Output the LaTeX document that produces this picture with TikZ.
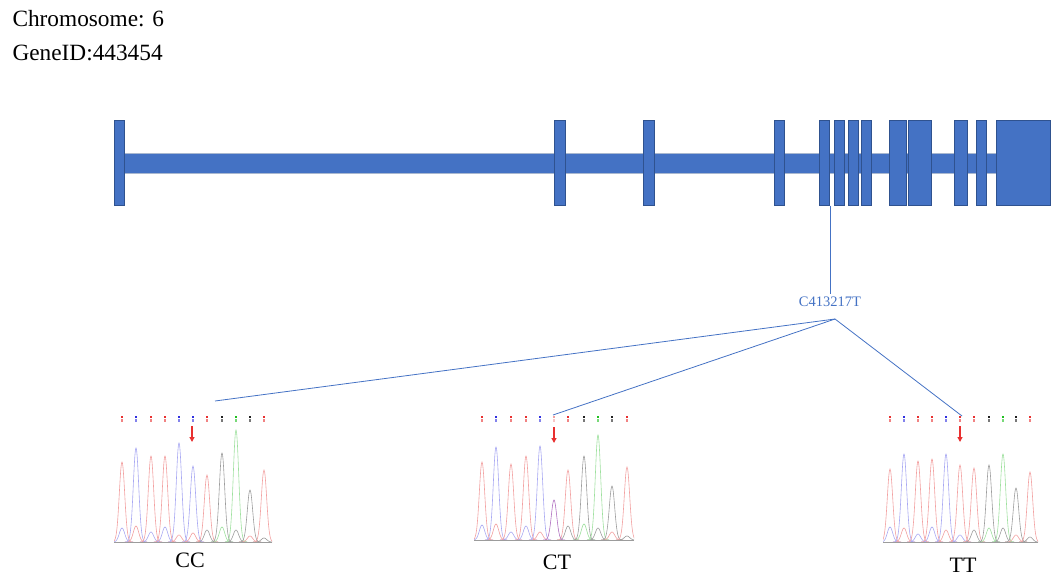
\documentclass[tikz,border=0pt]{standalone}
\usepackage{fontspec}
\setmainfont{Liberation Serif}
\usetikzlibrary{arrows.meta}
\definecolor{exon}{HTML}{4472C4}
\definecolor{exonb}{HTML}{2F528F}
\definecolor{intronb}{HTML}{A9B8D0}
\definecolor{pT}{HTML}{F2A0A0}
\definecolor{pC}{HTML}{A8A8F2}
\definecolor{pG}{HTML}{9C9C9C}
\definecolor{pA}{HTML}{9EE09E}
\definecolor{pM}{HTML}{B070C0}
\definecolor{dT}{HTML}{E83030}
\definecolor{dC}{HTML}{3030E0}
\definecolor{dG}{HTML}{202020}
\definecolor{dA}{HTML}{20C020}
\newcommand\pk[4]{\draw[#4, line width=0.6pt] plot[domain=-11:11, samples=37, smooth] ({#1+\x},{#3-#2*exp(-(\x/3.8)^2)});}
\newcommand\bmark[3]{\fill[#3] (#1-0.9,#2-1) rectangle (#1+0.9,#2+0.8);
  \fill[#3!60] (#1-0.7,#2+2.2) rectangle (#1+0.7,#2+5);}
\begin{document}
\begin{tikzpicture}[x=1pt,y=-1pt,
  exonbox/.style={draw=exonb, fill=exon, line width=0.8pt, inner sep=0pt, outer sep=0pt, anchor=north west},
  link/.style={draw=exon, line width=0.8pt},
  title/.style={font=\fontsize{23.3}{26}\selectfont, anchor=base west},
  geno/.style={font=\fontsize{22}{26}\selectfont},
  snpl/.style={text=exon, font=\fontsize{14.5}{17}\selectfont, inner sep=3pt},
  snparrow/.style={draw=dT, line width=1.6pt, -{Triangle[length=5pt,width=5pt]}}]
\useasboundingbox (0,0) rectangle (1060,581);
\node[title] (chr) at (9,26.7) {Chromosome: 6};
\node[title] (gid) at (9,60.7) {GeneID:443454};
% intron bar
\node[draw=intronb, fill=exon, line width=0.8pt, inner sep=0pt, anchor=north west,
  minimum width=872pt, minimum height=20.5pt] (intron) at (124,152.7) {};
% exons
\foreach \a/\b [count=\i] in {114/124.7, 554.3/565.7, 643.3/654.7, 774.3/784.3, 819.3/829.7, 834.3/844.7, 848.3/858.7, 861.3/871.7, 889.3/906.7, 908.3/931.7, 954.3/967.7, 976.3/986.7, 996.3/1050}
  \node[exonbox, minimum width=\b-\a, minimum height=85.7pt] (ex\i) at (\a,120) {};
% SNP label and connectors
\node[snpl] (snp) at (830,302) {C413217T};
\coordinate (tap) at (830.7,205.7);
\draw[link] (tap) -- (tap |- snp.north);
\coordinate (fan) at (835,319);
\coordinate (cc) at (215,401);
\coordinate (ct) at (553,415);
\coordinate (tt) at (962,416);
\draw[link] (fan) -- (cc);
\draw[link] (fan) -- (ct);
\draw[link] (fan) -- (tt);
% ---------- CC chromatogram ----------
\begin{scope}
\clip (114,400) rectangle (272,545);
\foreach \c/\h/\col/\s/\sh/\sc in {122/80/T/C/14/pC, 136/94/C/T/16/pT, 151/86/T/C/10/pC, 165/86/T/C/15/pC, 179/99/C/T/7/pT, 193/76/C/T/9/pT, 207/67/T/G/12/pG, 222/89/G/A/15/pA, 236/112/A/G/12/pG, 250/52/G/T/6/pT, 264/72/T/G/4/pG}{
  \pk{\c}{\sh}{542}{\sc}
  \pk{\c}{\h}{542}{p\col}
  \bmark{\c}{417}{d\col}
}
\draw[pG, line width=0.8pt] (114,542.5) -- (272,542.5);
\end{scope}
\coordinate (ccarrowtop) at (192,426);
\coordinate (ccarrowbot) at (192,442);
\draw[snparrow] (ccarrowtop) -- (ccarrowbot);
\node[geno] (lcc) at (190,560) {CC};
% ---------- CT chromatogram ----------
\begin{scope}
\clip (474,400) rectangle (634,543);
\foreach \c/\h/\col/\s/\sh/\sc in {482/78/T/C/15/pC, 496/93/C/T/16/pT, 511/76/T/C/8/pC, 526/84/T/C/14/pC, 540/94/C/T/8/pT, 568/70/T/G/14/pG, 584/84/G/A/16/pA, 598/105/A/G/12/pG, 612/54/G/T/8/pT, 627/73/T/G/4/pG}{
  \pk{\c}{\sh}{540}{\sc}
  \pk{\c}{\h}{540}{p\col}
  \bmark{\c}{417}{d\col}
}
\pk{554}{40}{540}{pM}
\bmark{554}{417}{pT}
\draw[pG, line width=0.8pt] (474,540.5) -- (634,540.5);
\end{scope}
\coordinate (ctarrowtop) at (554,427);
\coordinate (ctarrowbot) at (554,443);
\draw[snparrow] (ctarrowtop) -- (ctarrowbot);
\node[geno] (lct) at (557,562) {CT};
% ---------- TT chromatogram ----------
\begin{scope}
\clip (883,400) rectangle (1038,545);
\foreach \c/\h/\col/\s/\sh/\sc in {890/73/T/C/15/pC, 904/88/C/T/14/pT, 918/81/T/C/8/pC, 932/83/T/C/15/pC, 946/88/C/T/12/pT, 960/77/T/C/7/pC, 974/74/T/G/12/pG, 989/77/G/A/14/pA, 1003/88/A/G/14/pG, 1016/54/G/T/7/pT, 1030/70/T/G/5/pG}{
  \pk{\c}{\sh}{542}{\sc}
  \pk{\c}{\h}{542}{p\col}
  \bmark{\c}{417}{d\col}
}
\draw[pG, line width=0.8pt] (883,542.5) -- (1038,542.5);
\end{scope}
\coordinate (ttarrowtop) at (960,426);
\coordinate (ttarrowbot) at (960,442);
\draw[snparrow] (ttarrowtop) -- (ttarrowbot);
\node[geno] (ltt) at (963,565) {TT};
\end{tikzpicture}
\end{document}
